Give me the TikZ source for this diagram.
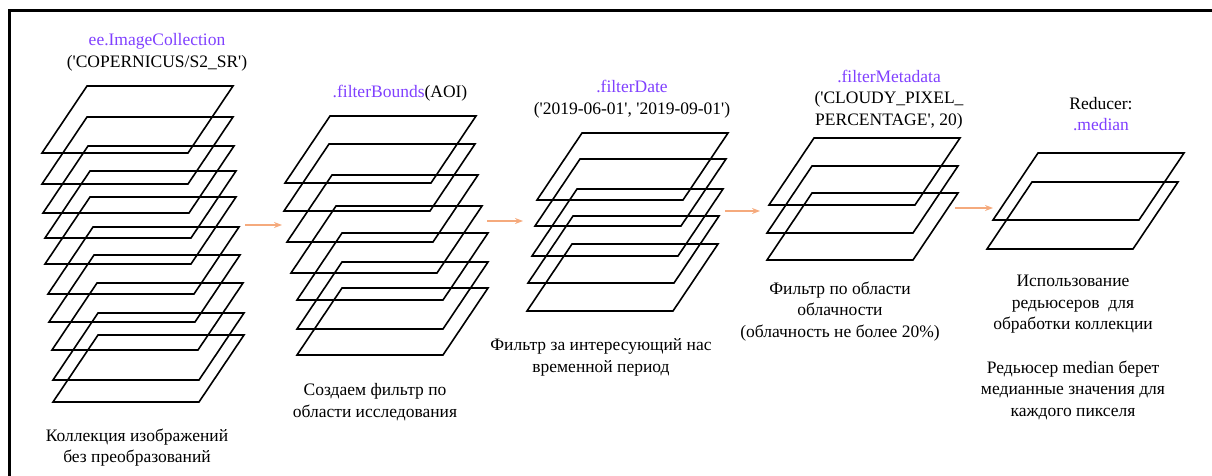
\documentclass[tikz,border=0pt]{standalone}
\usepackage{fontspec}
\setmainfont[Ligatures=TeXOff]{Liberation Serif}
\usetikzlibrary{arrows.meta}

\definecolor{codepurple}{RGB}{128,64,255}
\definecolor{flowpeach}{RGB}{245,170,125}

% one image of a collection: a parallelogram from its top-left corner
\newcommand{\layer}[2]{\draw[layer] (#1,#2) -- ++(146,0) -- ++(-45,67) -- ++(-146,0) -- cycle;}

\begin{document}
\begin{tikzpicture}[x=1pt,y=-1pt,
    layer/.style={line width=1.6pt, line join=miter},
    txt/.style={font=\rmfamily\fontsize{17.5}{21.5}\selectfont, align=center, inner sep=0pt},
    flow/.style={flowpeach, line width=1.4pt, -{Stealth[length=8pt,width=6pt]}}]
    \useasboundingbox (0,0) rectangle (1212,476);

    % frame
    \draw[line width=3pt] (9.5,480) -- (9.5,10.5) -- (1215,10.5);

    % stacks
    \foreach \x/\y in {87/86,87/117,88/146,90/171,90/197,93/227,94/255,97/283,98/313,98/335}
        {\layer{\x}{\y}}
    \foreach \x/\y in {330/116,329/144,332/175,336/206,342/233,342/262,342/288}
        {\layer{\x}{\y}}
    \foreach \x/\y in {582/133,580/159,577/189,573/216,572/244}
        {\layer{\x}{\y}}
    \foreach \x/\y in {814/138,812/166,812/193}
        {\layer{\x}{\y}}
    \foreach \x/\y in {1038/153,1032/182}
        {\layer{\x}{\y}}

    % arrows between the steps
    \coordinate (flow1a) at (245,225);
    \coordinate (flow1b) at (282,225);
    \coordinate (flow2a) at (487,221);
    \coordinate (flow2b) at (523,221);
    \coordinate (flow3a) at (725,211);
    \coordinate (flow3b) at (760,211);
    \coordinate (flow4a) at (955,208);
    \coordinate (flow4b) at (993,208);
    \draw[flow] (flow1a) -- (flow1b);
    \draw[flow] (flow2a) -- (flow2b);
    \draw[flow] (flow3a) -- (flow3b);
    \draw[flow] (flow4a) -- (flow4b);

    % step titles
    \node[txt] (collTitle) at (157,52.5) {{\color{codepurple}ee.ImageCollection}\\('COPERNICUS/S2\_SR')};
    \node[txt] (boundsTitle) at (400,93) {{\color{codepurple}.filterBounds}(AOI)};
    \node[txt] (dateTitle) at (632,99) {{\color{codepurple}.filterDate}\\('2019-06-01', '2019-09-01')};
    \node[txt] (metaTitle) at (889,99.5) {{\color{codepurple}.filterMetadata}\\('CLOUDY\_PIXEL\_\\PERCENTAGE', 20)};
    \node[txt] (medianTitle) at (1101,114) {Reducer:\\{\color{codepurple}.median}};

    % step captions
    \node[txt] (collText) at (137,447.5) {Коллекция изображений\\без преобразований};
    \node[txt] (boundsText) at (375,402) {Создаем фильтр по\\области исследования};
    \node[txt] (dateText) at (601,357.5) {Фильтр за интересующий нас\\временной период};
    \node[txt] (metaText) at (840,311.5) {Фильтр по области\\облачности\\(облачность не более 20\%)};
    \node[txt] (medianText) at (1073,304.5) {Использование\\редьюсеров\ \ для\\обработки коллекции};
    \node[txt] (medianNote) at (1073,390) {Редьюсер median берет\\медианные значения для\\каждого пикселя};
\end{tikzpicture}
\end{document}
